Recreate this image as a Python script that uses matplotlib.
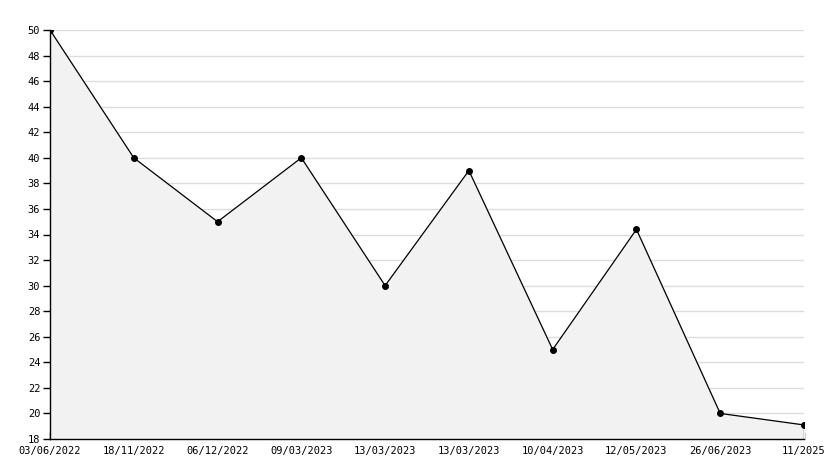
import matplotlib
matplotlib.use("Agg")
import matplotlib.pyplot as plt
from matplotlib.ticker import MultipleLocator

# data
dates = ["03/06/2022", "18/11/2022", "06/12/2022", "09/03/2023", "13/03/2023",
         "13/03/2023", "10/04/2023", "12/05/2023", "26/06/2023", "11/2025"]
values = [50, 40, 35, 40, 30, 39, 25, 34.4, 20, 19.1]
y_min, y_max = 18, 50

plt.rcParams["font.family"] = ["DejaVu Sans Mono"]

fig = plt.figure(figsize=(8.34, 4.68), dpi=100)
ax = fig.add_axes([50 / 834, (468 - 439) / 468, (804 - 50) / 834, (439 - 30) / 468])

x = list(range(len(values)))
ax.fill_between(x, values, y_min, color="#f2f2f2", zorder=1)
ax.plot(x, values, color="black", lw=0.9, marker="o", ms=4, zorder=3)
ax.plot([x[-1], x[-1]], [y_min, values[-1]], color="black", lw=0.9, zorder=3)

ax.set_xlim(x[0], x[-1])
ax.set_ylim(y_min, y_max)
ax.set_xticks(x)
ax.set_xticklabels(dates)
ax.yaxis.set_major_locator(MultipleLocator(2))
ax.yaxis.set_minor_locator(MultipleLocator(1))

ax.grid(axis="y", color="#dcdcdc", lw=1, zorder=0)
ax.set_axisbelow(True)

for side in ("top", "right"):
    ax.spines[side].set_visible(False)
for side in ("left", "bottom"):
    ax.spines[side].set_linewidth(1)

ax.tick_params(axis="x", direction="in", length=5, width=1, labelsize=7.5, pad=5)
ax.tick_params(axis="y", which="major", direction="out", length=5, width=1,
               labelsize=7.5, pad=2)
ax.tick_params(axis="y", which="minor", direction="in", length=4, width=1)

fig.savefig("out.png", dpi=100, facecolor="white")
plt.close(fig)
